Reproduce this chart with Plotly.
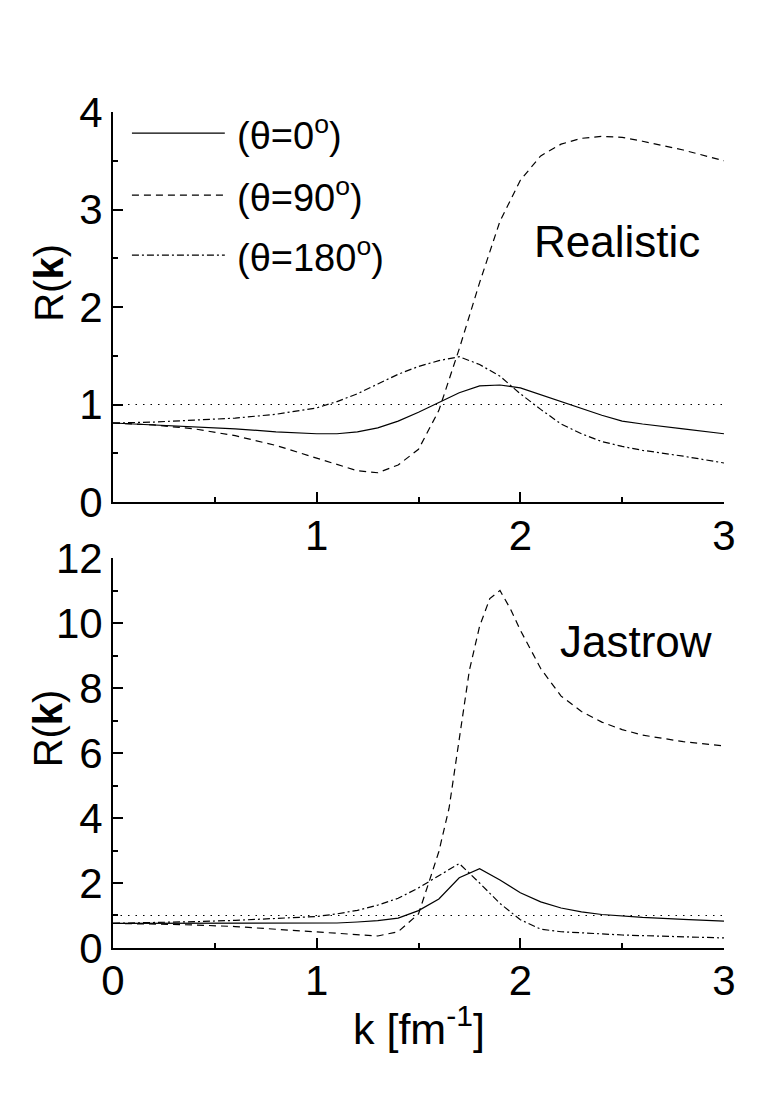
import plotly.graph_objects as go

# momentum grid (fm^-1)
k = [0.0, 0.2, 0.4, 0.6, 0.8, 1.0, 1.1, 1.2, 1.3, 1.4, 1.5, 1.6, 1.7,
     1.8, 1.9, 2.0, 2.1, 2.2, 2.3, 2.4, 2.5, 2.6, 2.8, 3.0]

# upper panel: realistic
real_0 = [0.81, 0.79, 0.77, 0.75, 0.72, 0.70, 0.70, 0.72, 0.76, 0.83, 0.92, 1.02, 1.12,
          1.19, 1.20, 1.17, 1.10, 1.03, 0.96, 0.89, 0.83, 0.80, 0.75, 0.70]
real_90 = [0.81, 0.79, 0.75, 0.68, 0.58, 0.45, 0.38, 0.32, 0.30, 0.38, 0.54, 0.94, 1.57,
           2.25, 2.88, 3.30, 3.55, 3.67, 3.73, 3.75, 3.74, 3.70, 3.61, 3.50]
real_180 = [0.81, 0.82, 0.84, 0.86, 0.90, 0.965, 1.03, 1.11, 1.21, 1.31, 1.39, 1.45, 1.49,
            1.41, 1.29, 1.11, 0.95, 0.80, 0.70, 0.62, 0.57, 0.53, 0.47, 0.40]

# lower panel: jastrow
jas_0 = [0.76, 0.76, 0.75, 0.75, 0.75, 0.75, 0.77, 0.80, 0.84, 0.92, 1.15, 1.51, 2.16,
         2.44, 2.09, 1.70, 1.42, 1.23, 1.11, 1.03, 0.98, 0.94, 0.88, 0.83]
jas_180 = [0.76, 0.78, 0.81, 0.85, 0.90, 0.97, 1.05, 1.16, 1.32, 1.53, 1.85, 2.23, 2.60,
           2.00, 1.37, 0.87, 0.58, 0.50, 0.46, 0.43, 0.40, 0.38, 0.34, 0.31]
k_fine = [0.0, 0.2, 0.4, 0.6, 0.8, 1.0, 1.1, 1.2, 1.3, 1.4, 1.5, 1.55, 1.6, 1.65, 1.7,
          1.75, 1.8, 1.85, 1.9, 1.95, 2.0, 2.1, 2.2, 2.3, 2.4, 2.5, 2.6, 2.8, 3.0]
jas_90 = [0.76, 0.74, 0.71, 0.66, 0.58, 0.50, 0.45, 0.40, 0.37, 0.50, 1.05, 2.0, 2.97, 4.3, 6.45,
          8.55, 9.9, 10.75, 11.0, 10.45, 9.78, 8.6, 7.75, 7.28, 6.95, 6.72, 6.55, 6.35, 6.22]

ref_k = [0, 3]
ref_r = [1, 1]

labels = ["(θ=0<sup>o</sup>)", "(θ=90<sup>o</sup>)", "(θ=180<sup>o</sup>)"]
dashes = ["solid", "7px,5px", "7px,3px,2px,3px"]

FONT = "Liberation Sans, Arial, sans-serif"

fig = go.Figure()

panels = [("x", "y", [real_0, real_90, real_180], [k, k, k]),
          ("x2", "y2", [jas_0, jas_90, jas_180], [k, k_fine, k])]
for xa, ya, series, grids in panels:
    fig.add_trace(go.Scatter(x=ref_k, y=ref_r, xaxis=xa, yaxis=ya, mode="lines",
                             line=dict(color="black", width=1.2, dash="1.5px,6px"),
                             showlegend=False))
    for s, g, d in zip(series, grids, dashes):
        fig.add_trace(go.Scatter(x=g, y=s, xaxis=xa, yaxis=ya, mode="lines",
                                 line=dict(color="black", width=1.2, dash=d),
                                 showlegend=False))

# hand made legend (long line samples)
legend_y = [0.946, 0.787, 0.633]
for lab, d, ly in zip(labels, dashes, legend_y):
    fig.add_shape(type="line", xref="x domain", yref="y domain",
                  x0=0.031, x1=0.183, y0=ly, y1=ly,
                  line=dict(color="black", width=1.2, dash=d))
    fig.add_annotation(text=lab, xref="x domain", yref="y domain", x=0.199, y=ly,
                       xanchor="left", yanchor="middle", showarrow=False,
                       font=dict(size=38, color="black", family=FONT))

fig.add_annotation(text="Realistic", xref="x domain", yref="y domain", x=0.825, y=0.669,
                   xanchor="center", yanchor="middle",
                   showarrow=False, font=dict(size=44, color="black", family=FONT))
fig.add_annotation(text="Jastrow", xref="x2 domain", yref="y2 domain", x=0.856, y=0.787,
                   xanchor="center", yanchor="middle",
                   showarrow=False, font=dict(size=44, color="black", family=FONT))

# axis titles
for yp in [0.796, 0.263]:
    fig.add_annotation(text="R(<b>k</b>)", xref="paper", yref="paper", x=-0.106, y=yp,
                       textangle=-90, showarrow=False, xanchor="center", yanchor="middle",
                       font=dict(size=40, color="black", family=FONT))
fig.add_annotation(text="k [fm<sup>-1</sup>]", xref="paper", yref="paper", x=0.5, y=-0.093,
                   showarrow=False, xanchor="center", yanchor="middle",
                   font=dict(size=43, color="black", family=FONT))

axis_style = dict(showline=True, linewidth=2, linecolor="black", showgrid=False,
                  zeroline=False, ticks="inside", ticklen=10, tickwidth=2, tickcolor="black",
                  tickfont=dict(size=42, color="black", family=FONT))

fig.update_layout(
    width=763, height=1114,
    margin=dict(l=105, r=47, t=104, b=174),
    plot_bgcolor="white", paper_bgcolor="white",
    showlegend=False,
    xaxis=dict(axis_style, range=[0, 3], domain=[0, 1], anchor="y", ticklabelstandoff=-4,
               tickmode="array", tickvals=[0, 1, 2, 3], ticktext=["", "1", "2", "3"],
               minor=dict(tickmode="array", tickvals=[0.5, 1.5, 2.5], ticks="inside",
                          ticklen=5, tickwidth=2, tickcolor="black")),
    yaxis=dict(axis_style, range=[0, 4], domain=[0.5335, 1], anchor="x", dtick=1, tick0=0,
               minor=dict(dtick=0.5, ticks="inside", ticklen=5, tickwidth=2, tickcolor="black")),
    xaxis2=dict(axis_style, range=[0, 3], domain=[0, 1], anchor="y2", dtick=1, tick0=0,
                ticklabelstandoff=-5,
                minor=dict(dtick=0.5, ticks="inside", ticklen=5, tickwidth=2, tickcolor="black")),
    yaxis2=dict(axis_style, range=[0, 12], domain=[0, 0.4665], anchor="x2", dtick=2, tick0=0,
                minor=dict(dtick=1, ticks="inside", ticklen=5, tickwidth=2, tickcolor="black")),
)

fig.write_html("out.html")
